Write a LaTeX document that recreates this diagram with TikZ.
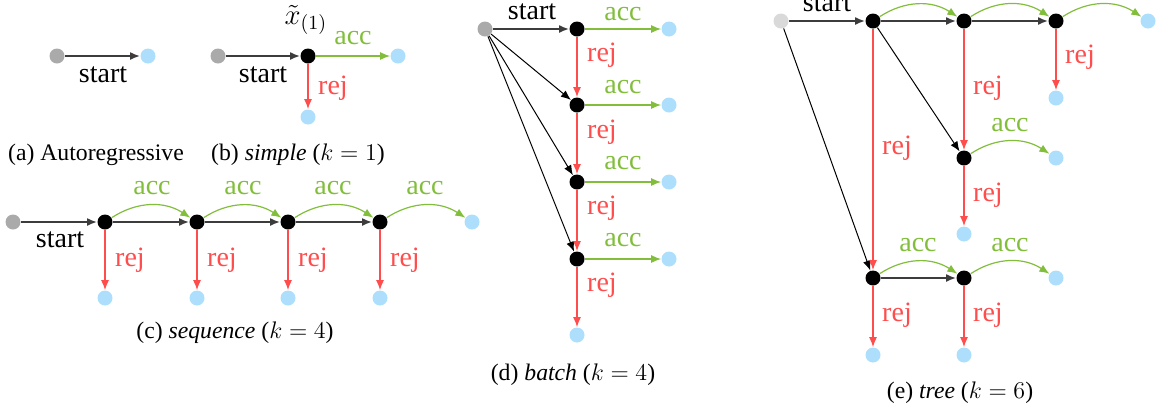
\documentclass[tikz,border=0pt]{standalone}
\usepackage{fontspec}
\setmainfont{Liberation Serif}
\usetikzlibrary{arrows.meta}
\definecolor{accg}{RGB}{130,190,60}
\definecolor{rejr}{RGB}{255,77,77}
\definecolor{skyb}{RGB}{173,223,252}
\definecolor{gsrc}{RGB}{170,170,170}
\definecolor{gsrcl}{RGB}{217,217,217}
\definecolor{darkln}{RGB}{60,60,60}
\tikzset{
  dot/.style={circle,minimum size=7.5pt,inner sep=0pt,draw=none},
  blk/.style={dot,fill=black},
  blu/.style={dot,fill=skyb},
  gry/.style={dot,fill=gsrc},
  lgry/.style={dot,fill=gsrcl},
  tipstyle/.style={-{Latex[length=5pt,width=4pt]}},
  sarr/.style={tipstyle,draw=darkln,line width=0.9pt},
  darr/.style={tipstyle,draw=black,line width=0.5pt},
  aarr/.style={tipstyle,draw=accg,line width=0.6pt},
  rarr/.style={tipstyle,draw=rejr,line width=0.6pt},
  arc/.style={aarr,bend left=33},
  lbl/.style={inner sep=0pt,font=\fontsize{14}{16}\selectfont},
  albl/.style={lbl,text=accg},
  rlbl/.style={lbl,text=rejr},
  capt/.style={inner sep=0pt,font=\fontsize{11.85}{14}\selectfont},
}
\begin{document}
\begin{tikzpicture}[x=0.5pt,y=-0.5pt]
\useasboundingbox (0,0) rectangle (1157,409);
\clip (0,0) rectangle (1157,409);
% ---------- (a)
\node[gry] (ga) at (57,56) {};
\node[blu] (ba) at (148,56) {};
\draw[sarr] (ga) -- (ba);
\node[lbl] (sa) at (103,75) {start};
\node[capt] (capa) at (96,155) {(a) Autoregressive};
% ---------- (b)
\node[gry] (gb) at (218,56) {};
\node[blk] (nb) at (308,56) {};
\node[blu] (bbr) at (398,56) {};
\node[blu] (bbd) at (308,117) {};
\draw[sarr] (gb) -- (nb);
\draw[aarr] (nb) -- (bbr);
\draw[rarr] (nb) -- (bbd);
\node[lbl] (sb) at (263,75) {start};
\node[lbl] (xb) at (306,20) {$\tilde{x}_{(1)}$};
\node[albl] (ab) at (353,38) {acc};
\node[rlbl] (rb) at (333,88) {rej};
\node[capt] (capb) at (298,155) {(b) \textit{simple} ($k=1$)};
% ---------- (c)
\node[gry] (gc) at (13,222) {};
\node[blk] (c1) at (105,222) {};
\node[blk] (c2) at (197,222) {};
\node[blk] (c3) at (288,222) {};
\node[blk] (c4) at (380,222) {};
\node[blu] (cr) at (472,222) {};
\node[blu] (cb1) at (105,298) {};
\node[blu] (cb2) at (197,298) {};
\node[blu] (cb3) at (288,298) {};
\node[blu] (cb4) at (380,298) {};
\draw[sarr] (gc) -- (c1);
\draw[sarr] (c1) -- (c2);
\draw[sarr] (c2) -- (c3);
\draw[sarr] (c3) -- (c4);
\draw[arc] (c1) to (c2);
\draw[arc] (c2) to (c3);
\draw[arc] (c3) to (c4);
\draw[arc] (c4) to (cr);
\draw[rarr] (c1) -- (cb1);
\draw[rarr] (c2) -- (cb2);
\draw[rarr] (c3) -- (cb3);
\draw[rarr] (c4) -- (cb4);
\node[lbl] (sc) at (60,240) {start};
\node[albl] (ac1) at (152,188) {acc};
\node[albl] (ac2) at (243,188) {acc};
\node[albl] (ac3) at (333,188) {acc};
\node[albl] (ac4) at (425,188) {acc};
\node[rlbl] (rc1) at (130,260) {rej};
\node[rlbl] (rc2) at (222,260) {rej};
\node[rlbl] (rc3) at (313,260) {rej};
\node[rlbl] (rc4) at (405,260) {rej};
\node[capt] (capc) at (235,333) {(c) \textit{sequence} ($k=4$)};
% ---------- (d)
\node[gry] (gd) at (485,29) {};
\node[blk] (d1) at (577,29) {};
\node[blk] (d2) at (577,105) {};
\node[blk] (d3) at (577,182) {};
\node[blk] (d4) at (577,259) {};
\node[blu] (dr1) at (669,29) {};
\node[blu] (dr2) at (669,105) {};
\node[blu] (dr3) at (669,182) {};
\node[blu] (dr4) at (669,259) {};
\node[blu] (db) at (577,335) {};
\draw[sarr] (gd) -- (d1);
\draw[darr] (gd) -- (d2);
\draw[darr] (gd) -- (d3);
\draw[darr] (gd) -- (d4);
\draw[aarr] (d1) -- (dr1);
\draw[aarr] (d2) -- (dr2);
\draw[aarr] (d3) -- (dr3);
\draw[aarr] (d4) -- (dr4);
\draw[rarr] (d1) -- (d2);
\draw[rarr] (d2) -- (d3);
\draw[rarr] (d3) -- (d4);
\draw[rarr] (d4) -- (db);
\node[lbl] (sd) at (532,12) {start};
\node[albl] (ad1) at (623,14) {acc};
\node[albl] (ad2) at (623,87) {acc};
\node[albl] (ad3) at (623,163) {acc};
\node[albl] (ad4) at (623,240) {acc};
\node[rlbl] (rd1) at (602,55) {rej};
\node[rlbl] (rd2) at (602,132) {rej};
\node[rlbl] (rd3) at (602,208) {rej};
\node[rlbl] (rd4) at (602,285) {rej};
\node[capt] (capd) at (573,375) {(d) \textit{batch} ($k=4$)};
% ---------- (e)
\node[lgry] (ge) at (781,21) {};
\node[blk] (e1) at (873,21) {};
\node[blk] (e2) at (964,21) {};
\node[blk] (e3) at (1056,21) {};
\node[blu] (er3) at (1148,21) {};
\node[blu] (eb3) at (1056,98) {};
\node[blk] (e4) at (964,158) {};
\node[blu] (er4) at (1056,158) {};
\node[blu] (eb4) at (964,234) {};
\node[blk] (e5) at (873,278) {};
\node[blk] (e6) at (964,278) {};
\node[blu] (er6) at (1056,278) {};
\node[blu] (eb5) at (873,355) {};
\node[blu] (eb6) at (964,355) {};
\draw[sarr] (ge) -- (e1);
\draw[sarr] (e1) -- (e2);
\draw[sarr] (e2) -- (e3);
\draw[sarr] (e5) -- (e6);
\draw[darr] (e1) -- (e4);
\draw[darr] (ge) -- (e5);
\draw[arc] (e1) to (e2);
\draw[arc] (e2) to (e3);
\draw[arc] (e3) to (er3);
\draw[arc] (e4) to (er4);
\draw[arc] (e5) to (e6);
\draw[arc] (e6) to (er6);
\draw[rarr] (e3) -- (eb3);
\draw[rarr] (e2) -- (e4);
\draw[rarr] (e4) -- (eb4);
\draw[rarr] (e1) -- (e5);
\draw[rarr] (e5) -- (eb5);
\draw[rarr] (e6) -- (eb6);
\node[lbl] (se) at (827,4) {start};
\node[rlbl] (re3) at (1080,57) {rej};
\node[rlbl] (re2) at (988,88) {rej};
\node[albl] (ae4) at (1010,125) {acc};
\node[rlbl] (re4) at (988,195) {rej};
\node[rlbl] (re1) at (897,148) {rej};
\node[albl] (ae5) at (918,245) {acc};
\node[albl] (ae6) at (1010,245) {acc};
\node[rlbl] (re5) at (897,315) {rej};
\node[rlbl] (re6) at (988,315) {rej};
\node[capt] (cape) at (960,393) {(e) \textit{tree} ($k=6$)};
\end{tikzpicture}
\end{document}
